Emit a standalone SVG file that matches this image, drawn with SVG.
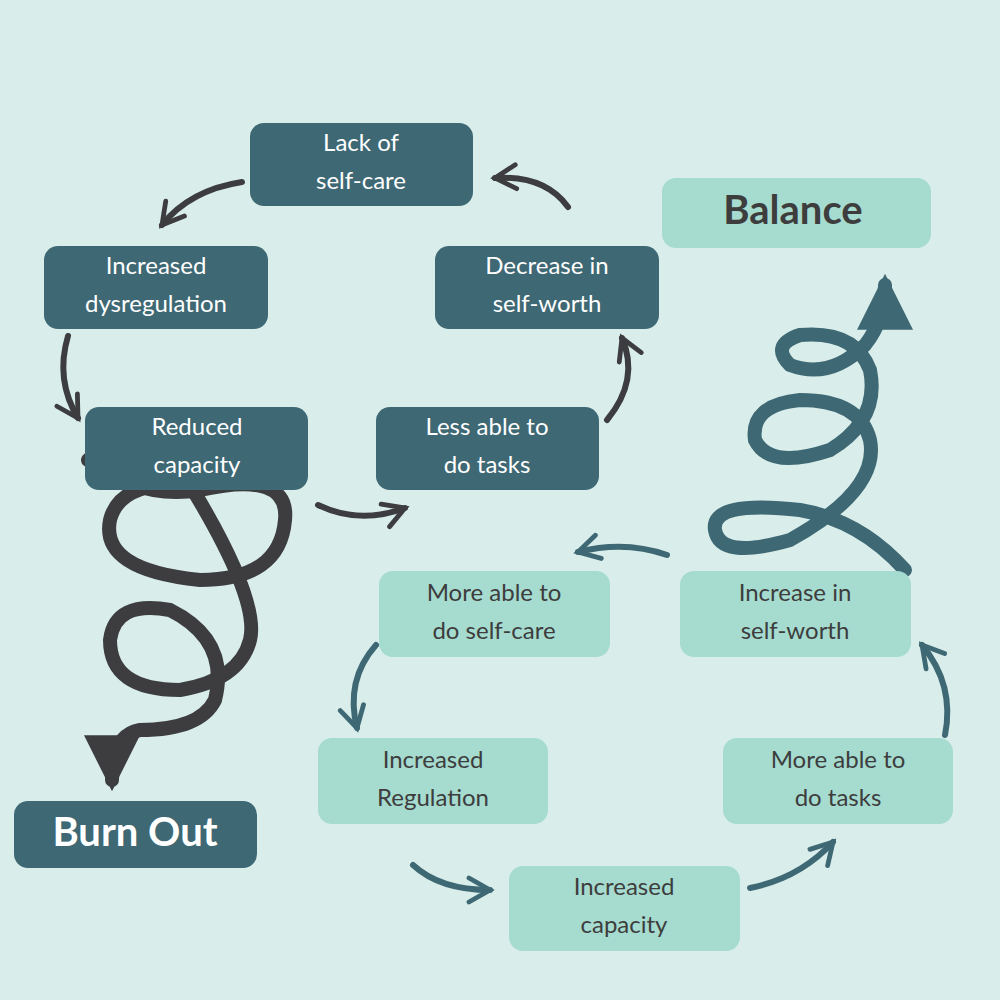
<svg xmlns="http://www.w3.org/2000/svg" width="1000" height="1000" viewBox="0 0 1000 1000">
<style>
.d rect{fill:#3e6874}
.l rect{fill:#a6dbd0}
.d text{fill:#ffffff}
.l text{fill:#3d3d3d}
text{font-family:Lato,"Open Sans",sans-serif;font-size:24px;text-anchor:middle}
.big{font-size:40px;font-weight:bold}
.ag{fill:none;stroke:#3d3d40;stroke-width:6;stroke-linecap:round}
.at{fill:none;stroke:#3e6874;stroke-width:6;stroke-linecap:round}
</style>
<defs>
<marker id="hg" viewBox="0 0 10 10" refX="8" refY="5" markerWidth="5" markerHeight="5" orient="auto" markerUnits="strokeWidth"><path d="M1,1 L8,5 L1,9" fill="none" stroke="#3d3d40" stroke-width="1.6" stroke-linecap="round"/></marker>
<marker id="ht" viewBox="0 0 10 10" refX="8" refY="5" markerWidth="5" markerHeight="5" orient="auto" markerUnits="strokeWidth"><path d="M1,1 L8,5 L1,9" fill="none" stroke="#3e6874" stroke-width="1.6" stroke-linecap="round"/></marker>
<marker id="tg" viewBox="0 0 10 10" refX="8" refY="5" markerWidth="4" markerHeight="4" orient="auto" markerUnits="strokeWidth"><path d="M0,0 L10,5 L0,10 Z" fill="#3d3d40"/></marker>
<marker id="tt" viewBox="0 0 10 10" refX="8" refY="5" markerWidth="4" markerHeight="4" orient="auto" markerUnits="strokeWidth"><path d="M0,0 L10,5 L0,10 Z" fill="#3e6874"/></marker>
</defs>
<rect width="1000" height="1000" fill="#d9eeeb"/>
<g id="connectors">
<path class="ag" d="M242,182 Q190,190 162,225" marker-end="url(#hg)"/>
<path class="ag" d="M568,207 Q545,175 495,178" marker-end="url(#hg)"/>
<path class="ag" d="M68,336 Q55,380 78,418" marker-end="url(#hg)"/>
<path class="ag" d="M607,420 Q640,380 622,338" marker-end="url(#hg)"/>
<path class="ag" d="M318,505 Q360,525 405,508" marker-end="url(#hg)"/>
<path class="at" d="M667,555 Q625,540 578,552" marker-end="url(#ht)"/>
<path class="at" d="M376,645 Q345,680 357,728" marker-end="url(#ht)"/>
<path class="at" d="M413,865 Q440,890 490,890" marker-end="url(#ht)"/>
<path class="at" d="M750,888 Q800,878 833,842" marker-end="url(#ht)"/>
<path class="at" d="M945,735 Q955,685 922,645" marker-end="url(#ht)"/>
<path fill="none" stroke="#3d3d40" stroke-width="14" stroke-linecap="round" d="M88,460 Q140,500 200,490 Q290,470 285,520 Q280,580 200,580 Q100,570 110,520 Q120,480 190,485 Q260,600 250,640 Q240,680 180,690 Q110,690 110,640 Q115,600 170,610 Q230,640 215,700 Q200,730 140,730 Q112,735 112,780" marker-end="url(#tg)"/>
<path fill="none" stroke="#3e6874" stroke-width="14" stroke-linecap="round" d="M905,570 Q860,520 800,510 Q710,500 715,530 Q720,560 790,540 Q880,490 870,440 Q860,400 800,400 Q750,405 755,440 Q770,470 830,450 Q880,420 870,370 Q855,330 800,335 Q770,345 790,365 Q830,380 865,345 Q885,320 885,285" marker-end="url(#tt)"/>
</g>
<g id="lack" class="d"><rect x="250" y="123" width="223" height="83" rx="14"/><text x="361" y="151">Lack of</text><text x="361" y="189">self-care</text></g>
<g id="dysreg" class="d"><rect x="44" y="246" width="224" height="83" rx="14"/><text x="156" y="274">Increased</text><text x="156" y="312">dysregulation</text></g>
<g id="decrease" class="d"><rect x="435" y="246" width="224" height="83" rx="14"/><text x="547" y="274">Decrease in</text><text x="547" y="312">self-worth</text></g>
<g id="reduced" class="d"><rect x="85" y="407" width="223" height="83" rx="14"/><text x="197" y="435">Reduced</text><text x="197" y="473">capacity</text></g>
<g id="less" class="d"><rect x="376" y="407" width="223" height="83" rx="14"/><text x="487" y="435">Less able to</text><text x="487" y="473">do tasks</text></g>
<g id="burnout" class="d"><rect x="14" y="801" width="243" height="67" rx="14"/><text class="big" x="135" y="846">Burn Out</text></g>
<g id="balance" class="l"><rect x="662" y="178" width="269" height="70" rx="14"/><text class="big" x="793" y="224">Balance</text></g>
<g id="moreself" class="l"><rect x="379" y="571" width="231" height="86" rx="14"/><text x="494" y="601">More able to</text><text x="494" y="639">do self-care</text></g>
<g id="incworth" class="l"><rect x="680" y="571" width="231" height="86" rx="14"/><text x="795" y="601">Increase in</text><text x="795" y="639">self-worth</text></g>
<g id="increg" class="l"><rect x="318" y="738" width="230" height="86" rx="14"/><text x="433" y="768">Increased</text><text x="433" y="806">Regulation</text></g>
<g id="moretasks" class="l"><rect x="723" y="738" width="230" height="86" rx="14"/><text x="838" y="768">More able to</text><text x="838" y="806">do tasks</text></g>
<g id="inccap" class="l"><rect x="509" y="866" width="231" height="85" rx="14"/><text x="624" y="895">Increased</text><text x="624" y="933">capacity</text></g>
</svg>
